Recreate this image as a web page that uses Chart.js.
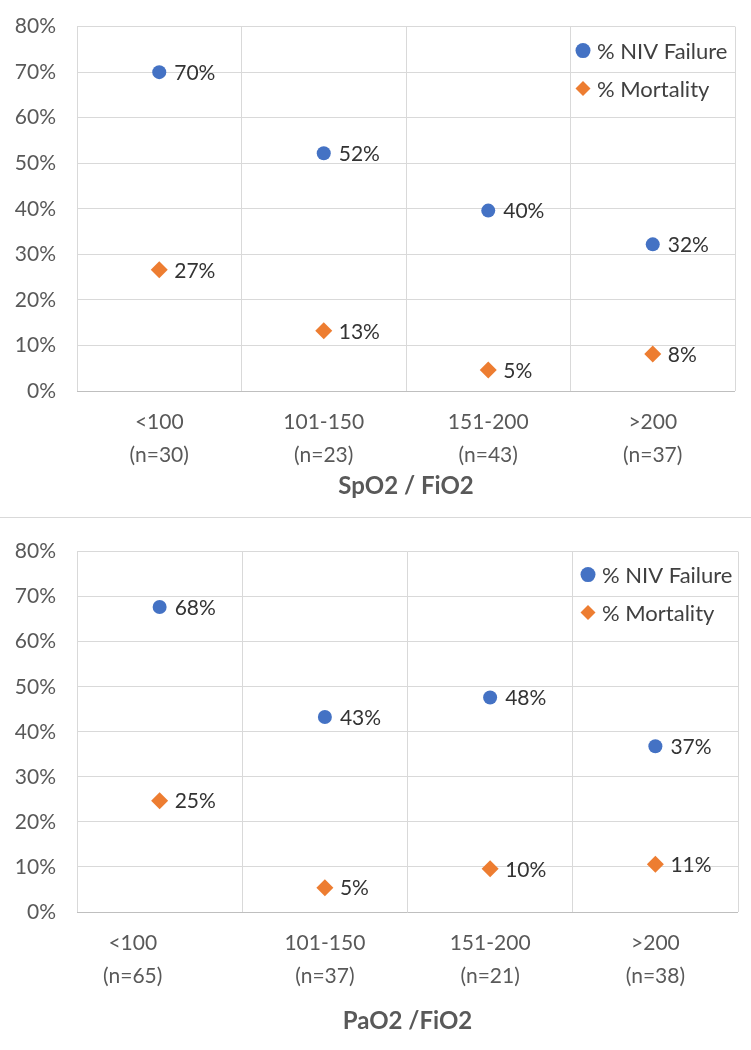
<!DOCTYPE html>
<html>
<head>
<meta charset="utf-8">
<script src="https://cdn.jsdelivr.net/npm/chart.js@4"></script>
<style>
  body { margin: 0; background: #fff; overflow: hidden; }
  canvas { display: block; }
  #spo2 { margin-top: -7px; }
  .sep { width: 751px; height: 1px; background: #d9d9d9; }
</style>
</head>
<body>
<canvas id="spo2" width="751" height="524"></canvas>
<div class="sep"></div>
<canvas id="pao2" width="751" height="532"></canvas>
<script>
// values in percent
const seriesNames = ['% NIV Failure', '% Mortality'];

const spo2Labels = [['<100', '(n=30)'], ['101-150', '(n=23)'], ['151-200', '(n=43)'], ['>200', '(n=37)']];
const spo2Failure = [70, 52.2, 39.6, 32.2];
const spo2Mortality = [26.6, 13.2, 4.6, 8.1];

// first label sits left of its point in the original, trailing spaces reproduce that
const pao2Labels = [['<100          ', '(n=65)          '], ['101-150', '(n=37)'], ['151-200', '(n=21)'], ['>200', '(n=38)']];
const pao2Failure = [67.7, 43.3, 47.6, 36.8];
const pao2Mortality = [24.7, 5.4, 9.6, 10.6];

const FONT = 'Lato';
const BLUE = '#4472C4';
const ORANGE = '#ED7D31';

const pointLabels = {
  id: 'pointLabels',
  afterDatasetsDraw(chart) {
    const ctx = chart.ctx;
    ctx.save();
    ctx.font = '21px ' + FONT;
    ctx.fillStyle = '#333333';
    ctx.textAlign = 'left';
    ctx.textBaseline = 'middle';
    chart.data.datasets.forEach((ds, i) => {
      chart.getDatasetMeta(i).data.forEach((pt, j) => {
        ctx.fillText(Math.round(ds.data[j]) + '%', pt.x + 15, pt.y + 1);
      });
    });
    ctx.restore();
  }
};

const insideLegend = {
  id: 'insideLegend',
  afterDraw(chart, args, opts) {
    const { ctx, chartArea } = chart;
    const x = chartArea.right - opts.right;
    ctx.save();
    chart.data.datasets.forEach((ds, i) => {
      const y = chartArea.top + opts.top + i * 38;
      ctx.fillStyle = ds.backgroundColor;
      ctx.beginPath();
      if (ds.pointStyle === 'circle') {
        ctx.arc(x, y, 7.5, 0, Math.PI * 2);
      } else {
        ctx.moveTo(x, y - 7.5);
        ctx.lineTo(x + 7.5, y);
        ctx.lineTo(x, y + 7.5);
        ctx.lineTo(x - 7.5, y);
        ctx.closePath();
      }
      ctx.fill();
      ctx.font = '22px ' + FONT;
      ctx.fillStyle = '#404040';
      ctx.textAlign = 'left';
      ctx.textBaseline = 'middle';
      ctx.fillText(ds.label, x + 14, y + 1);
    });
    ctx.restore();
  }
};

function makeChart(id, labels, failure, mortality, title, box) {
  new Chart(document.getElementById(id), {
    type: 'line',
    data: {
      labels: labels,
      datasets: [
        {
          label: seriesNames[0],
          data: failure,
          showLine: false,
          pointStyle: 'circle',
          pointRadius: 7,
          backgroundColor: BLUE,
          borderColor: BLUE,
          borderWidth: 0
        },
        {
          label: seriesNames[1],
          data: mortality,
          showLine: false,
          pointStyle: 'rectRot',
          pointRadius: 8.5,
          backgroundColor: ORANGE,
          borderColor: ORANGE,
          borderWidth: 0
        }
      ]
    },
    options: {
      responsive: false,
      animation: false,
      layout: { autoPadding: false, padding: { top: box.top, right: box.right, left: 0, bottom: 0 } },
      plugins: {
        legend: { display: false },
        tooltip: { enabled: false },
        insideLegend: { right: box.legendRight, top: box.legendTop }
      },
      scales: {
        x: {
          offset: true,
          grid: { color: '#d9d9d9', drawTicks: false, offset: true },
          border: { display: false },
          ticks: {
            font: { family: FONT, size: 21, lineHeight: 1.55 },
            color: '#595959',
            padding: 15,
            maxRotation: 0,
            autoSkip: false
          },
          title: {
            display: true,
            text: title,
            font: { family: FONT, size: 24, weight: 'bold' },
            color: '#595959',
            padding: { top: 0, bottom: box.titleBottom }
          },
          afterFit(s) { s.height = box.xHeight; }
        },
        y: {
          min: 0,
          max: 80,
          grid: {
            color: c => (c.tick && c.tick.value === 0 ? '#bfbfbf' : '#d9d9d9'),
            drawTicks: false
          },
          border: { display: false },
          ticks: {
            stepSize: 10,
            callback: v => v + '%',
            font: { family: FONT, size: 21 },
            color: '#595959',
            padding: 21
          },
          afterFit(s) { s.width = 77; }
        }
      }
    },
    plugins: [pointLabels, insideLegend]
  });
}

makeChart('spo2', spo2Labels, spo2Failure, spo2Mortality, 'SpO2 / FiO2',
  { top: 33, right: 16, legendRight: 152, legendTop: 24, xHeight: 126, titleBottom: 16 });
makeChart('pao2', pao2Labels, pao2Failure, pao2Mortality, 'PaO2 /FiO2',
  { top: 33, right: 13, legendRight: 150, legendTop: 23, xHeight: 138, titleBottom: 14 });
</script>
</body>
</html>
